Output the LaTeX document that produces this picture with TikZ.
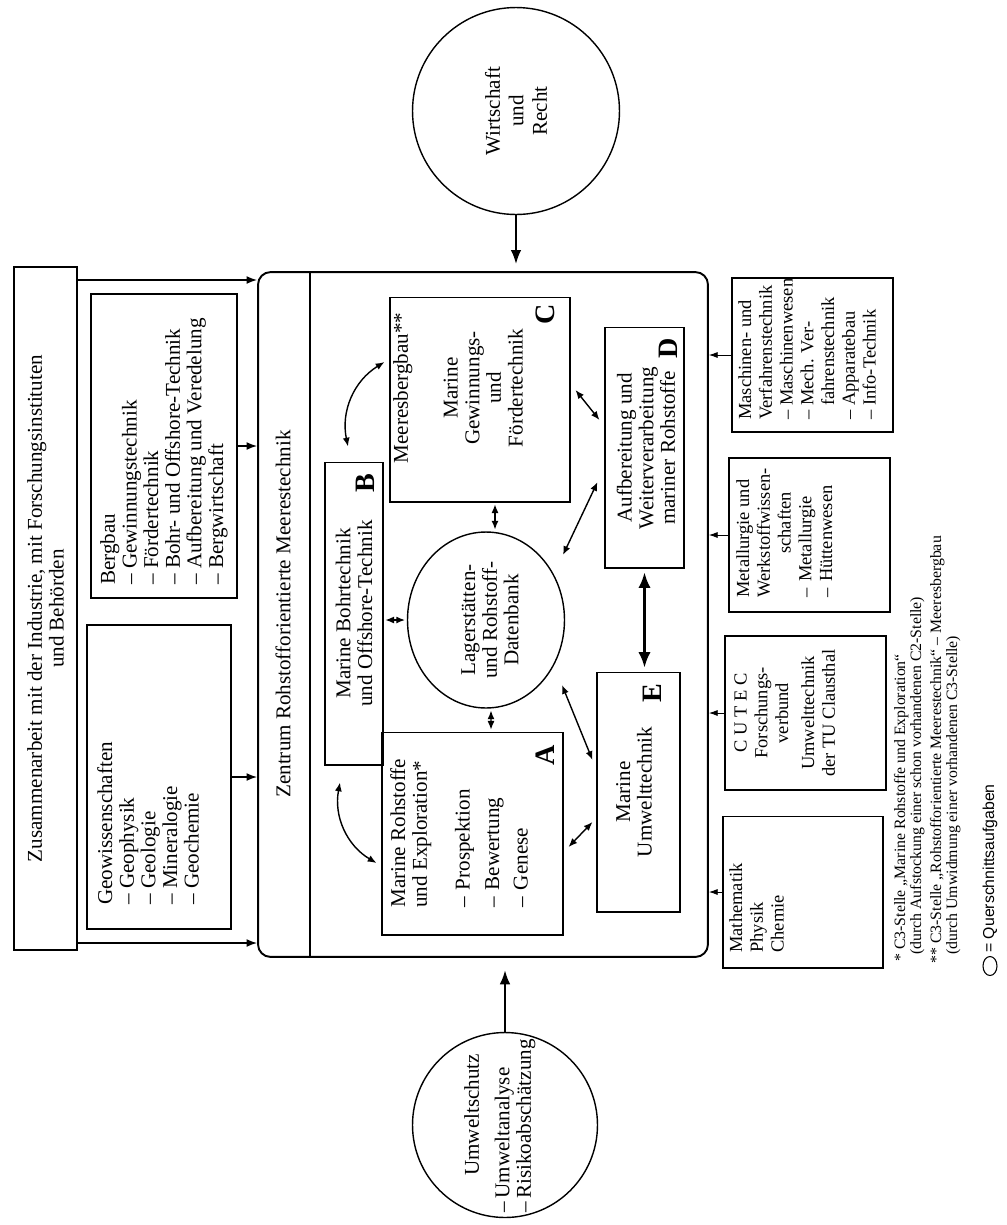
\documentclass[tikz,border=0pt]{standalone}
\usepackage{fontspec}
\setmainfont{Liberation Serif}
\newfontfamily\legendfont{Liberation Sans}
\usetikzlibrary{arrows.meta,calc,shapes.geometric}
\newcommand\bigtxt{\fontsize{12}{12.3}\selectfont}
\newcommand\sidetxt{\fontsize{10.5}{11.8}\selectfont}
\newcommand\notetxt{\fontsize{9}{9.5}\selectfont}

\begin{document}
\begin{tikzpicture}[x=0.02cm, y=-0.02cm,
    frame/.style={draw, line width=0.6pt, inner sep=0pt},
    heavy/.style={frame, line width=0.9pt},
    txt/.style={rotate=90, inner sep=0pt, align=left, font=\bigtxt},
    ctxt/.style={rotate=90, inner sep=0pt, align=center, font=\bigtxt},
    stxt/.style={rotate=90, inner sep=0pt, align=left, font=\sidetxt},
    letter/.style={rotate=90, inner sep=0pt, font=\fontsize{16}{16}\selectfont\bfseries},
    link/.style={-{Latex[length=6pt,width=4.5pt]}, line width=0.8pt},
    slink/.style={-{Latex[length=5pt,width=3.5pt]}, line width=0.5pt},
    biglink/.style={-{Latex[length=8pt,width=6pt]}, line width=1.1pt},
    dlink/.style={{Latex[length=5pt,width=4pt]}-{Latex[length=5pt,width=4pt]}, line width=0.8pt},
    fatlink/.style={{Latex[length=9pt,width=7pt]}-{Latex[length=9pt,width=7pt]}, line width=1.8pt},
  ]
  \useasboundingbox (0,0) rectangle (1007,1225);

  % cooperation frame and faculties on the left
  \node[heavy, minimum width=1.26cm, minimum height=13.66cm] (coop) at (45.5,608.5) {};
  \node[ctxt] (cooptxt) at (coop) {Zusammenarbeit mit der Industrie, mit Forschungsinstituten\\und Behörden};
  \node[heavy, minimum width=2.92cm, minimum height=6.08cm] (berg) at (164,446) {};
  \node[txt, anchor=north west] (bergtxt) at (100,585) {Bergbau\\– Gewinnungstechnik\\– Fördertechnik\\– Bohr- und Offshore-Technik\\– Aufbereitung und Veredelung\\– Bergwirtschaft};
  \node[heavy, minimum width=2.88cm, minimum height=6.08cm] (geo) at (159,777) {};
  \node[txt, anchor=north west] (geotxt) at (97,905) {Geowissenschaften\\– Geophysik\\– Geologie\\– Mineralogie\\– Geochemie};

  % centre
  \node[draw, line width=1.1pt, rounded corners=0.25cm, minimum width=9cm, minimum height=13.7cm] (main) at (483,614.5) {};
  \coordinate (sep) at (310,0);
  \draw[line width=0.6pt] (main.north -| sep) -- (main.south -| sep);
  \node[ctxt] (title) at (283,614) {Zentrum Rohstofforientierte Meerestechnik};

  \node[draw, ellipse, line width=0.8pt, minimum width=3.14cm, minimum height=3.52cm, inner sep=0pt] (lager) at (486,620) {};
  \node[ctxt] (lagertxt) at (490,620) {Lagerstätten-\\und Rohstoff-\\Datenbank};

  \node[frame, minimum width=1.16cm, minimum height=6.06cm] (boxB) at (354,613.5) {};
  \node[ctxt] (btext) at (boxB) {Marine Bohrtechnik\\und Offshore-Technik};
  \node[letter] (labB) at (365,483) {B};

  \node[frame, minimum width=3.62cm, minimum height=4.06cm] (boxA) at (472.5,833.5) {};
  \node[txt, anchor=north west] (atext) at (390,908) {Marine Rohstoffe\\und Exploration*\\[12pt]\makebox[10pt][l]{–}Prospektion\\[4.5pt]\makebox[10pt][l]{–}Bewertung\\[4pt]\makebox[10pt][l]{–}Genese};
  \node[letter] (labA) at (545,755) {A};

  \node[frame, minimum width=3.6cm, minimum height=4.1cm] (boxC) at (480,399.5) {};
  \node[ctxt, anchor=north] (ctext) at (393,388) {Meeresbergbau**\\[16pt]Marine\\Gewinnungs-\\und\\Fördertechnik};
  \node[letter] (labC) at (545,314) {C};

  \node[frame, minimum width=1.58cm, minimum height=4.82cm] (boxD) at (644.5,447.5) {};
  \node[ctxt] (dtext) at (646,448) {Aufbereitung und\\Weiterverarbeitung\\mariner Rohstoffe};
  \node[letter] (labD) at (668,348) {D};

  \node[frame, minimum width=1.66cm, minimum height=4.8cm] (boxE) at (638.5,792) {};
  \node[ctxt] (etext) at (634,792) {Marine\\Umwelttechnik};
  \node[letter] (labE) at (652,693) {E};

  % cross-sectional tasks
  \node[draw, circle, line width=0.8pt, minimum size=4.14cm, inner sep=0pt] (wirt) at (516,111) {};
  \node[ctxt, font=\fontsize{12}{13.4}\selectfont] (wirttxt) at (wirt) {Wirtschaft\\und\\Recht};
  \node[draw, circle, line width=0.8pt, minimum size=3.7cm, inner sep=0pt] (umwelt) at (505,1125) {};
  \node[txt, anchor=north west] (umwelttxt) at (464,1213) {\hspace*{0.74cm}Umweltschutz\\[5pt]\makebox[8pt][l]{–}Umweltanalyse\\\makebox[8pt][l]{–}Risikoabschätzung};

  % faculties on the right
  \node[frame, minimum width=3.22cm, minimum height=3.08cm] (masch) at (812.5,355) {};
  \node[stxt, anchor=north west] (maschtxt) at (738,420) {Maschinen- und\\Verfahrenstechnik\\– Maschinenwesen\\– Mech. Ver-\\\phantom{– }fahrenstechnik\\– Apparatebau\\– Info-Technik};
  \node[frame, minimum width=3.22cm, minimum height=3.08cm] (metal) at (809.5,535) {};
  \node[stxt, anchor=north west] (metaltxt) at (736,598) {Metallurgie und\\Werkstoffwissen-\\\hspace*{25pt}schaften\\\makebox[9pt][l]{–}Metallurgie\\\makebox[9pt][l]{–}Hüttenwesen};
  \node[frame, minimum width=3.22cm, minimum height=3.08cm] (cutec) at (805.5,713) {};
  \node[stxt, align=center, anchor=north] (cutectxt) at (734,713) {C U T E C\\Forschungs-\\verbund\\[3pt]Umwelttechnik\\der TU Clausthal};
  \node[frame, minimum width=3.2cm, minimum height=3.04cm] (mathe) at (803,892) {};
  \node[stxt, anchor=north west] (mathetxt) at (729,953) {Mathematik\\Physik\\Chemie};

  % arrows into the centre
  \coordinate (rowtop) at (0,280);
  \coordinate (rowbot) at (0,943);
  \draw[link] (coop.east |- rowtop) -- (main.west |- rowtop);
  \draw[link] (coop.east |- rowbot) -- (main.west |- rowbot);
  \draw[link] (berg.east) -- (berg.east -| main.west);
  \draw[link] (geo.east) -- (geo.east -| main.west);
  \draw[biglink, shorten >=4pt] (wirt.south) -- (wirt.south |- main.north);
  \draw[biglink, shorten >=7pt] (umwelt.north) -- (umwelt.north |- main.south);
  \draw[slink] (masch.west) -- (masch.west -| main.east);
  \draw[slink] (metal.west) -- (metal.west -| main.east);
  \draw[slink] (cutec.west) -- (cutec.west -| main.east);
  \draw[slink] (mathe.west) -- (mathe.west -| main.east);

  % links inside the centre
  \draw[dlink, shorten <=1pt, shorten >=1pt] (lager.west -| boxB.east) -- (lager.west);
  \draw[dlink, shorten <=1pt, shorten >=1pt] ($(lager.north)+(9,0)$) -- ($(boxC.south)+(15,0)$);
  \draw[dlink, shorten <=1pt, shorten >=1pt] ($(lager.south)+(5,0)$) -- ($(boxA.north)+(18.5,0)$);
  \draw[dlink] ($(lager)+(77,-65)$) -- ($(boxD.west)+(-7,34.5)$);
  \draw[dlink] ($(lager)+(76,65)$) -- ($(boxE.west)+(-4,-32)$);
  \draw[dlink] ($(boxC.east)+(5,-9.5)$) -- ($(boxD.west)+(-5,-27.5)$);
  \draw[dlink] ($(boxA.east)+(5,13.5)$) -- ($(boxE.west)+(-4,30)$);
  \draw[fatlink, shorten <=2pt, shorten >=2pt] (boxD.south) -- (boxD.south |- boxE.north);
  \draw[dlink] ($(boxB.north)+(-6,-15)$) to[bend left=35] ($(boxC.west)+(-5,-37.5)$);
  \draw[dlink] ($(boxB.south)+(-14,17)$) to[bend right=35] ($(boxA.west)+(-5,29.5)$);

  % notes
  \node[rotate=90, anchor=base west, inner sep=0pt, font=\notetxt] (note1) at (905,962) {* C3-Stelle „Marine Rohstoffe und Exploration“};
  \node[rotate=90, anchor=base west, inner sep=0pt, font=\notetxt] (note2) at (921,955) {(durch Aufstockung einer schon vorhandenen C2-Stelle)};
  \node[rotate=90, anchor=base west, inner sep=0pt, font=\notetxt] (note3) at (941,964) {** C3-Stelle „Rohstofforientierte Meerestechnik“ – Meeresbergbau};
  \node[rotate=90, anchor=base west, inner sep=0pt, font=\notetxt] (note4) at (957,955) {(durch Umwidmung einer vorhandenen C3-Stelle)};
  \node[draw, ellipse, line width=0.6pt, minimum width=0.28cm, minimum height=0.38cm, inner sep=0pt] (legcirc) at (990,966) {};
  \node[rotate=90, anchor=base west, inner sep=0pt, font=\legendfont\fontsize{9}{9.5}\selectfont] (legtxt) at (994,953) {= Querschnittsaufgaben};
\end{tikzpicture}
\end{document}
